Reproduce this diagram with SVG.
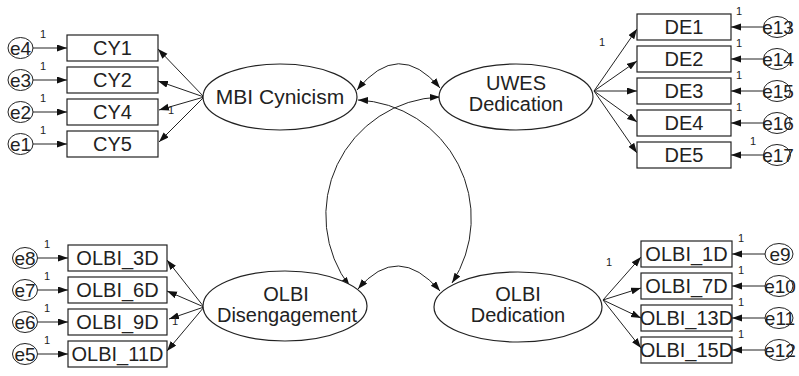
<svg xmlns="http://www.w3.org/2000/svg" width="799" height="376" viewBox="0 0 799 376">
<style>
.box{fill:#fff;stroke:#222;stroke-width:1.2}
.err{fill:#fff;stroke:#222;stroke-width:1}
.lat{fill:#fff;stroke:#222;stroke-width:1.2}
.t{font-family:"Liberation Sans",Arial,sans-serif;font-size:20px;fill:#222;text-anchor:middle}
.te{font-family:"Liberation Sans",Arial,sans-serif;font-size:19px;fill:#222;text-anchor:middle}
.tl{font-family:"Liberation Sans",Arial,sans-serif;font-size:21px;fill:#222;text-anchor:middle}
.tl2{font-family:"Liberation Sans",Arial,sans-serif;font-size:20px;fill:#222;text-anchor:middle}
.one{font-family:"Liberation Sans",Arial,sans-serif;font-size:11px;fill:#222}
.c{fill:none;stroke:#222;stroke-width:1;marker-end:url(#ah)}
.d{fill:none;stroke:#222;stroke-width:1;marker-end:url(#ah);marker-start:url(#ah)}
</style>
<defs>
<marker id="ah" markerUnits="userSpaceOnUse" markerWidth="11" markerHeight="8" refX="10" refY="3.5" orient="auto-start-reverse">
<path d="M0,0 L10,3.5 L0,7 z" fill="#111"/>
</marker>
</defs>
<rect width="799" height="376" fill="#fff"/>

<g id="connectors">
<line class="c" x1="33" y1="48" x2="67" y2="48"/>
<line class="c" x1="33" y1="80" x2="67" y2="80"/>
<line class="c" x1="33" y1="112" x2="67" y2="112"/>
<line class="c" x1="33" y1="144" x2="67" y2="144"/>
<line class="c" x1="204" y1="97" x2="158" y2="49"/>
<line class="c" x1="204" y1="97" x2="158" y2="81"/>
<line class="c" x1="204" y1="97" x2="159" y2="110"/>
<line class="c" x1="204" y1="97" x2="159" y2="142"/>
<line class="c" x1="594" y1="91" x2="637" y2="29"/>
<line class="c" x1="594" y1="91" x2="637" y2="61"/>
<line class="c" x1="594" y1="91" x2="637" y2="91"/>
<line class="c" x1="594" y1="91" x2="637" y2="122"/>
<line class="c" x1="594" y1="91" x2="637" y2="153"/>
<line class="c" x1="763" y1="27" x2="731" y2="27"/>
<line class="c" x1="763" y1="59" x2="731" y2="59"/>
<line class="c" x1="763" y1="91" x2="731" y2="91"/>
<line class="c" x1="763" y1="123" x2="731" y2="123"/>
<line class="c" x1="763" y1="155" x2="731" y2="155"/>
<line class="c" x1="38" y1="258" x2="68" y2="258"/>
<line class="c" x1="38" y1="290" x2="68" y2="290"/>
<line class="c" x1="38" y1="322" x2="68" y2="322"/>
<line class="c" x1="38" y1="354" x2="68" y2="354"/>
<line class="c" x1="204" y1="307" x2="167" y2="260"/>
<line class="c" x1="204" y1="307" x2="167" y2="291"/>
<line class="c" x1="204" y1="307" x2="169" y2="319"/>
<line class="c" x1="204" y1="307" x2="167" y2="351"/>
<line class="c" x1="603" y1="300" x2="641" y2="257"/>
<line class="c" x1="603" y1="300" x2="641" y2="288"/>
<line class="c" x1="603" y1="300" x2="641" y2="318"/>
<line class="c" x1="603" y1="300" x2="641" y2="348"/>
<line class="c" x1="765" y1="254" x2="732" y2="254"/>
<line class="c" x1="765" y1="286" x2="732" y2="286"/>
<line class="c" x1="765" y1="318" x2="732" y2="318"/>
<line class="c" x1="765" y1="350" x2="732" y2="350"/>
<path class="d" d="M357,90 Q398.5,38.5 440,88"/>
<path class="d" d="M350,287 A118.4,118.4 0 0 1 440,97"/>
<path class="d" d="M358,100 A118.4,118.4 0 0 1 452,283"/>
<path class="d" d="M358,289 Q398,242 440,291"/>
</g>

<g id="labels1">
<text class="one" x="40" y="38">1</text>
<text class="one" x="40" y="70">1</text>
<text class="one" x="40" y="102">1</text>
<text class="one" x="40" y="134">1</text>
<text class="one" x="168" y="114">1</text>
<text class="one" x="599" y="46">1</text>
<text class="one" x="736" y="15">1</text>
<text class="one" x="736" y="47">1</text>
<text class="one" x="736" y="79">1</text>
<text class="one" x="736" y="111">1</text>
<text class="one" x="750" y="145">1</text>
<text class="one" x="44" y="248">1</text>
<text class="one" x="44" y="280">1</text>
<text class="one" x="44" y="312">1</text>
<text class="one" x="44" y="344">1</text>
<text class="one" x="172" y="325">1</text>
<text class="one" x="606" y="266">1</text>
<text class="one" x="738" y="242">1</text>
<text class="one" x="738" y="274">1</text>
<text class="one" x="738" y="306">1</text>
<text class="one" x="738" y="338">1</text>
</g>

<g id="MBI_Cynicism"><ellipse class="lat" cx="280" cy="97" rx="77" ry="33"/><text class="tl" x="280" y="104">MBI Cynicism</text></g>
<g id="UWES_Dedication"><ellipse class="lat" cx="516" cy="97" rx="77" ry="33"/><text class="tl2" x="516" y="90">UWES</text><text class="tl2" x="516" y="111">Dedication</text></g>
<g id="OLBI_Disengagement"><ellipse class="lat" cx="285" cy="306" rx="82" ry="35"/><text class="tl2" x="286" y="301">OLBI</text><text class="tl2" x="287" y="322">Disengagement</text></g>
<g id="OLBI_Dedication"><ellipse class="lat" cx="518" cy="307" rx="84" ry="35"/><text class="tl2" x="518" y="301">OLBI</text><text class="tl2" x="518" y="322">Dedication</text></g>

<g id="CY1"><rect class="box" x="67" y="35" width="91" height="26"/><text class="t" x="112.5" y="55">CY1</text></g>
<g id="CY2"><rect class="box" x="67" y="67" width="91" height="26"/><text class="t" x="112.5" y="87">CY2</text></g>
<g id="CY4"><rect class="box" x="67" y="99" width="91" height="26"/><text class="t" x="112.5" y="119">CY4</text></g>
<g id="CY5"><rect class="box" x="67" y="131" width="91" height="26"/><text class="t" x="112.5" y="151">CY5</text></g>
<g id="e4"><ellipse class="err" cx="20.5" cy="48" rx="12.5" ry="10.5"/><text class="te" x="20.5" y="55">e4</text></g>
<g id="e3"><ellipse class="err" cx="20.5" cy="80" rx="12.5" ry="10.5"/><text class="te" x="20.5" y="87">e3</text></g>
<g id="e2"><ellipse class="err" cx="20.5" cy="112" rx="12.5" ry="10.5"/><text class="te" x="20.5" y="119">e2</text></g>
<g id="e1"><ellipse class="err" cx="20.5" cy="144" rx="12.5" ry="10.5"/><text class="te" x="20.5" y="151">e1</text></g>

<g id="DE1"><rect class="box" x="637" y="14" width="94" height="26"/><text class="t" x="684" y="34">DE1</text></g>
<g id="DE2"><rect class="box" x="637" y="46" width="94" height="26"/><text class="t" x="684" y="66">DE2</text></g>
<g id="DE3"><rect class="box" x="637" y="78" width="94" height="26"/><text class="t" x="684" y="98">DE3</text></g>
<g id="DE4"><rect class="box" x="637" y="110" width="94" height="26"/><text class="t" x="684" y="130">DE4</text></g>
<g id="DE5"><rect class="box" x="637" y="142" width="94" height="26"/><text class="t" x="684" y="162">DE5</text></g>
<g id="e13"><ellipse class="err" cx="777" cy="27" rx="13.5" ry="10.5"/><text class="te" x="778" y="34">e13</text></g>
<g id="e14"><ellipse class="err" cx="777" cy="59" rx="13.5" ry="10.5"/><text class="te" x="778" y="66">e14</text></g>
<g id="e15"><ellipse class="err" cx="777" cy="91" rx="13.5" ry="10.5"/><text class="te" x="778" y="98">e15</text></g>
<g id="e16"><ellipse class="err" cx="777" cy="123" rx="13.5" ry="10.5"/><text class="te" x="778" y="130">e16</text></g>
<g id="e17"><ellipse class="err" cx="777" cy="155" rx="13.5" ry="10.5"/><text class="te" x="778" y="162">e17</text></g>

<g id="OLBI_3D"><rect class="box" x="68" y="245" width="99" height="26"/><text class="t" x="117.5" y="265">OLBI_3D</text></g>
<g id="OLBI_6D"><rect class="box" x="68" y="277" width="99" height="26"/><text class="t" x="117.5" y="297">OLBI_6D</text></g>
<g id="OLBI_9D"><rect class="box" x="68" y="309" width="99" height="26"/><text class="t" x="117.5" y="329">OLBI_9D</text></g>
<g id="OLBI_11D"><rect class="box" x="68" y="341" width="99" height="26"/><text class="t" x="117.5" y="361">OLBI_11D</text></g>
<g id="e8"><ellipse class="err" cx="25" cy="258" rx="12.5" ry="10.5"/><text class="te" x="25" y="265">e8</text></g>
<g id="e7"><ellipse class="err" cx="25" cy="290" rx="12.5" ry="10.5"/><text class="te" x="25" y="297">e7</text></g>
<g id="e6"><ellipse class="err" cx="25" cy="322" rx="12.5" ry="10.5"/><text class="te" x="25" y="329">e6</text></g>
<g id="e5"><ellipse class="err" cx="25" cy="354" rx="12.5" ry="10.5"/><text class="te" x="25" y="361">e5</text></g>

<g id="OLBI_1D"><rect class="box" x="641" y="241" width="91" height="26"/><text class="t" x="686.5" y="261">OLBI_1D</text></g>
<g id="OLBI_7D"><rect class="box" x="641" y="273" width="91" height="26"/><text class="t" x="686.5" y="293">OLBI_7D</text></g>
<g id="OLBI_13D"><rect class="box" x="641" y="305" width="91" height="26"/><text class="t" x="686.5" y="325">OLBI_13D</text></g>
<g id="OLBI_15D"><rect class="box" x="641" y="337" width="91" height="26"/><text class="t" x="686.5" y="357">OLBI_15D</text></g>
<g id="e9"><ellipse class="err" cx="779" cy="254" rx="14" ry="10.5"/><text class="te" x="780" y="261">e9</text></g>
<g id="e10"><ellipse class="err" cx="779" cy="286" rx="14" ry="10.5"/><text class="te" x="780" y="293">e10</text></g>
<g id="e11"><ellipse class="err" cx="779" cy="318" rx="14" ry="10.5"/><text class="te" x="780" y="325">e11</text></g>
<g id="e12"><ellipse class="err" cx="779" cy="350" rx="14" ry="10.5"/><text class="te" x="780" y="357">e12</text></g>
</svg>
